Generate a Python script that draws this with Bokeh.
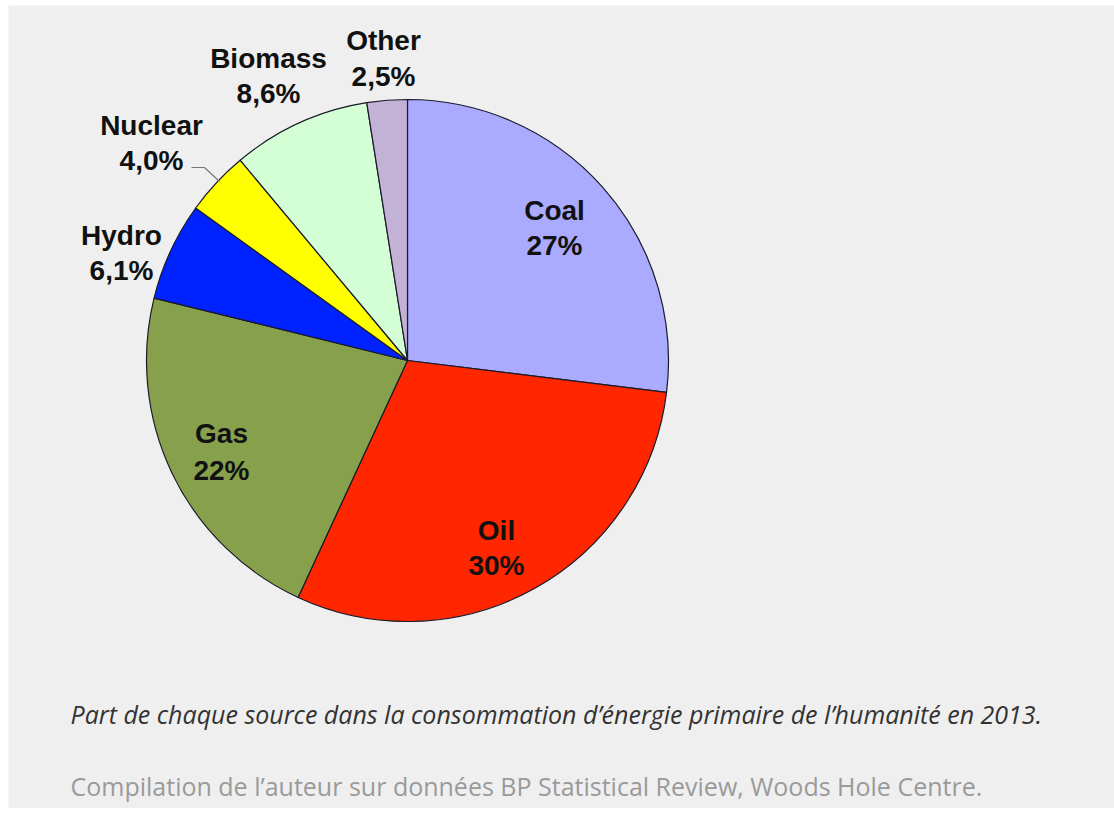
import math
from bokeh.plotting import figure
from bokeh.models import Range1d, ColumnDataSource
from bokeh.core.properties import value
from bokeh.embed import file_html
from bokeh.resources import INLINE

# ---- data ----
sources = ["Coal", "Oil", "Gas", "Hydro", "Nuclear", "Biomass", "Other"]
shares = [27.0, 30.0, 22.0, 6.1, 4.0, 8.6, 2.5]
share_labels = ["27%", "30%", "22%", "6,1%", "4,0%", "8,6%", "2,5%"]
colors = ["#aaaaff", "#ff2600", "#87a04c", "#0022ff", "#ffff00", "#d4ffd4", "#c2b2d6"]

caption = "Part de chaque source dans la consommation d\u2019\u00e9nergie primaire de l\u2019humanit\u00e9 en 2013."
credit = "Compilation de l\u2019auteur sur donn\u00e9es BP Statistical Review, Woods Hole Centre."

# ---- layout (page pixel coordinates; y downward, drawn as -y) ----
W, H = 1114, 808
LEFT, TOP = 8, 5
CX, CY, R = 407, 360, 261
label_x = [554, 496, 221, 121, 151, 268, 383]
label_y1 = [210, 530, 433, 235, 125, 58, 40]
label_y2 = [245, 565, 470, 270, 160, 93, 76]

total = sum(shares)
starts, ends = [], []
a = math.pi / 2
for s in shares:
    starts.append(a)
    a -= s / total * 2 * math.pi
    ends.append(a)

p = figure(width=W, height=H, output_backend="svg", toolbar_location=None,
           x_range=Range1d(LEFT, W), y_range=Range1d(-H, -TOP),
           min_border=0, min_border_left=LEFT, min_border_top=TOP)
p.axis.visible = False
p.grid.visible = False
p.outline_line_color = None
p.background_fill_color = "#efefef"
p.border_fill_color = "#ffffff"

src = ColumnDataSource(dict(start=starts, end=ends, color=colors))
p.wedge(x=CX, y=-CY, radius=R, start_angle="start", end_angle="end",
        direction="clock", fill_color="color", line_color="#1a1a2a",
        line_width=1.2, source=src)

# nuclear leader line
p.line(x=[191, 204, 219], y=[-167, -167, -181], line_color="#777777", line_width=1.2)

lsrc = ColumnDataSource(dict(x=label_x, y1=[-v for v in label_y1], y2=[-v for v in label_y2],
                             name=sources, pct=share_labels))
for col, ycol in (("name", "y1"), ("pct", "y2")):
    p.text(x="x", y=ycol, text=col, source=lsrc, text_align="center",
           text_baseline="alphabetic", text_font=value("Liberation Sans"),
           text_font_style="bold", text_font_size="28px", text_color="#111111")

p.text(x=[70], y=[-713], text=[caption], text_font=value("Open Sans"),
       text_font_style="italic", text_font_size="25px", text_color="#333333",
       text_baseline="alphabetic")
p.text(x=[70], y=[-785], text=[credit], text_font=value("Open Sans"),
       text_font_size="25px", text_color="#9a9a9a", text_baseline="alphabetic")

open("out.html", "w").write(file_html(p, INLINE))
